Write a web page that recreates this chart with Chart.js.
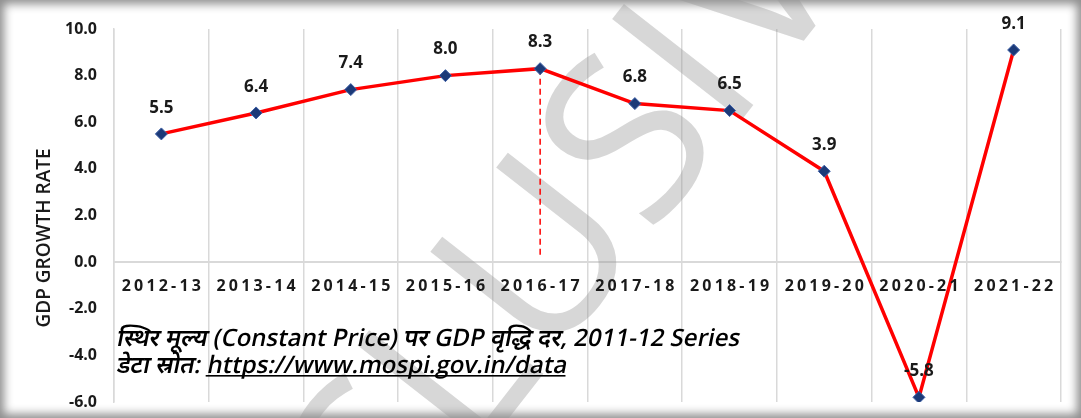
<!DOCTYPE html>
<html><head><meta charset="utf-8">
<script src="https://cdn.jsdelivr.net/npm/chart.js@4.4.1/dist/chart.umd.min.js"></script>
<style>
html,body{margin:0;padding:0;background:#fff}
#wrap{position:relative;width:1081px;height:418px;box-shadow:inset 0 0 10px 4px rgba(0,0,0,0.45);}
canvas{position:absolute;left:0;top:0}
</style></head><body>
<div id="wrap"><canvas id="c" width="1081" height="418"></canvas></div>
<script>
const categories = ['2012-13','2013-14','2014-15','2015-16','2016-17','2017-18','2018-19','2019-20','2020-21','2021-22'];
const growthRate = [5.5, 6.4, 7.4, 8.0, 8.3, 6.8, 6.5, 3.9, -5.8, 9.1];
const yMin = -6, yMax = 10, yStep = 2;
const yTitle = 'GDP GROWTH RATE';
const markerCategory = '2016-17';
const noteLine1 = 'स्थिर मूल्य (Constant Price) पर GDP वृद्धि दर, 2011-12 Series';
const notePrefix = 'डेटा स्रोत: ';
const noteUrl = 'https://www.mospi.gov.in/data';
const watermark = 'EXCLUSIVE';

const FONT = "'Open Sans', 'Noto Sans', 'DejaVu Sans', sans-serif";

const overlay = {
  id: 'overlay',
  beforeDatasetsDraw(chart) {
    const {ctx, scales: {x, y}} = chart;
    // watermark (drawn over grid, under the series)
    ctx.save();
    ctx.fillStyle = 'rgba(150,150,150,0.38)';
    ctx.font = "400 230px " + FONT;
    ctx.translate(683, 62);
    ctx.rotate(-52 * Math.PI / 180);
    const pre = ctx.measureText('EXCLUS').width;
    const iw = ctx.measureText('I').width;
    ctx.textAlign = 'left';
    ctx.textBaseline = 'alphabetic';
    ctx.fillText(watermark, -(pre + iw / 2), 82);
    ctx.restore();
    // dashed marker line
    const i = categories.indexOf(markerCategory);
    const px = x.getPixelForValue(i);
    ctx.save();
    ctx.strokeStyle = '#ff0000';
    ctx.lineWidth = 1.5;
    ctx.setLineDash([6, 4]);
    ctx.beginPath();
    ctx.moveTo(px, y.getPixelForValue(growthRate[i]));
    ctx.lineTo(px, y.getPixelForValue(0) - 6);
    ctx.stroke();
    ctx.restore();
  },
  afterDraw(chart) {
    const {ctx, scales: {x, y}} = chart;
    // y title
    ctx.save();
    ctx.font = "600 19px " + FONT;
    ctx.fillStyle = '#1a1a1a';
    ctx.textAlign = 'center';
    ctx.textBaseline = 'middle';
    ctx.translate(45, 238);
    ctx.rotate(-Math.PI / 2);
    ctx.fillText(yTitle, 0, 0);
    ctx.restore();
    // x category labels with letter spacing
    ctx.save();
    ctx.font = "bold 16px " + FONT;
    ctx.fillStyle = '#1a1a1a';
    ctx.textAlign = 'center';
    ctx.textBaseline = 'middle';
    ctx.letterSpacing = '3.2px';
    const y0 = y.getPixelForValue(0);
    categories.forEach((c, i) => {
      ctx.fillText(c, x.getPixelForValue(i) + 1.6, y0 + 24);
    });
    ctx.restore();
    // data labels
    ctx.save();
    ctx.font = "bold 17px " + FONT;
    ctx.fillStyle = '#1a1a1a';
    ctx.textAlign = 'center';
    ctx.textBaseline = 'middle';
    const meta = chart.getDatasetMeta(0);
    meta.data.forEach((pt, i) => {
      ctx.fillText(growthRate[i].toFixed(1), pt.x, pt.y - 26);
    });
    ctx.restore();
    // notes (slanted)
    ctx.save();
    ctx.fillStyle = '#000';
    ctx.textAlign = 'left';
    ctx.textBaseline = 'alphabetic';
    ctx.font = "600 24px " + FONT;
    ctx.translate(116, 346);
    ctx.transform(1, 0, -0.2, 1, 0, 0);
    ctx.fillText(noteLine1, 0, 0);
    ctx.restore();
    ctx.save();
    ctx.fillStyle = '#000';
    ctx.font = "600 24px " + FONT;
    ctx.translate(116, 373);
    ctx.transform(1, 0, -0.2, 1, 0, 0);
    ctx.fillText(notePrefix, 0, 0);
    const w = ctx.measureText(notePrefix).width;
    ctx.fillText(noteUrl, w, 0);
    const uw = ctx.measureText(noteUrl).width;
    ctx.restore();
    ctx.fillStyle = '#000';
    ctx.fillRect(116 + w - 0.6, 375, uw, 1.6);
  }
};

new Chart(document.getElementById('c'), {
  type: 'line',
  data: {
    labels: categories,
    datasets: [{
      data: growthRate,
      borderColor: '#ff0000',
      borderWidth: 3.5,
      tension: 0,
      pointStyle: 'rectRot',
      pointRadius: 6,
      pointHoverRadius: 6,
      pointBackgroundColor: '#1c3a78',
      pointBorderColor: '#3d5fa5',
      pointBorderWidth: 1
    }]
  },
  options: {
    responsive: false,
    devicePixelRatio: 1,
    animation: false,
    events: [],
    layout: {padding: {left: 0, right: 20, top: 29, bottom: 16}},
    plugins: {legend: {display: false}, tooltip: {enabled: false}},
    scales: {
      x: {
        position: {y: 0},
        offset: true,
        afterFit(scale) { scale.height = 0; },
        grid: {display: true, offset: true, color: '#d9d9d9', lineWidth: 1.5, drawTicks: false},
        border: {display: true, color: '#d9d9d9', width: 2},
        ticks: {display: false}
      },
      y: {
        min: yMin, max: yMax,
        afterFit(scale) { scale.width = 114; },
        grid: {display: false, drawTicks: true, tickLength: 15},
        border: {display: true, color: '#d9d9d9', width: 1.5},
        ticks: {
          stepSize: yStep,
          padding: 2,
          color: '#1a1a1a',
          font: {family: FONT, size: 16, weight: 'bold'},
          callback: v => Number(v).toFixed(1)
        }
      }
    }
  },
  plugins: [overlay]
});
</script>
</body></html>
